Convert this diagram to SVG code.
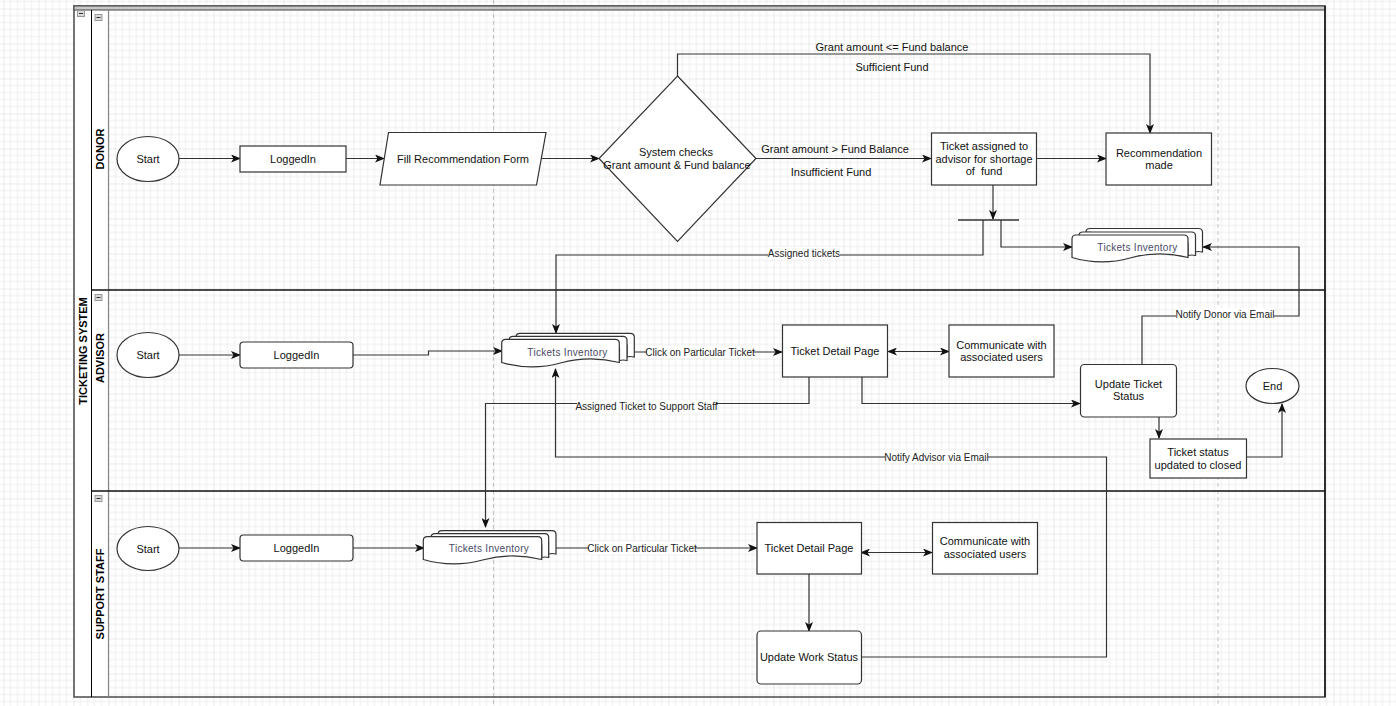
<svg xmlns="http://www.w3.org/2000/svg" width="1396" height="706" viewBox="0 0 1396 706">
<defs>
<pattern id="grid" x="3.5" y="8.5" width="35" height="35" patternUnits="userSpaceOnUse">
<path d="M7,0V35M14,0V35M21,0V35M28,0V35M0,7H35M0,14H35M0,21H35M0,28H35" stroke="#ededed" stroke-width="1" fill="none"/>
<path d="M0,0V35M0,0H35" stroke="#d8d8d8" stroke-width="1" fill="none"/>
</pattern>
<marker id="arr" viewBox="0 0 10 8" refX="9" refY="4" markerWidth="10" markerHeight="8" markerUnits="userSpaceOnUse" orient="auto-start-reverse">
<path d="M0,0 L10,4 L0,8 L2.5,4 Z" fill="#111"/>
</marker>
<style>
.n{fill:#fff;stroke:#333;stroke-width:1.2}
.t{font-family:"Liberation Sans",Arial,sans-serif;font-size:11px;fill:#111;text-anchor:middle;dominant-baseline:central}
.el{font-family:"Liberation Sans",Arial,sans-serif;font-size:10px;fill:#222;text-anchor:middle;dominant-baseline:central}
.inv{font-family:"Liberation Sans",Arial,sans-serif;font-size:10px;fill:#4a4a66;text-anchor:middle;dominant-baseline:central;letter-spacing:0.3px}
.lane{font-family:"Liberation Sans",Arial,sans-serif;font-size:11px;font-weight:bold;fill:#000;text-anchor:middle;dominant-baseline:central}
.c{fill:none;stroke:#333;stroke-width:1.2}
.ca{fill:none;stroke:#333;stroke-width:1.2;marker-end:url(#arr)}
.lbg{fill:#fff}
.ico{fill:#d9d9d9;stroke:#999;stroke-width:1}
</style>
</defs>
<rect width="1396" height="706" fill="#fff"/>
<rect width="1396" height="706" fill="url(#grid)"/>
<g id="pagebreaks" stroke="#c4c4c4" stroke-width="1" stroke-dasharray="4,3">
<line x1="493.5" y1="0" x2="493.5" y2="706"/>
<line x1="1218" y1="0" x2="1218" y2="706"/>
</g>
<g id="pool">
<rect x="74" y="6" width="34" height="691" fill="#fff"/>
<rect x="74" y="6" width="1251" height="691" fill="none" stroke="#555" stroke-width="1.6"/>
<rect x="74" y="6" width="1251" height="4" fill="#c8c8c8" stroke="#444" stroke-width="1"/>
<line x1="91.5" y1="10" x2="91.5" y2="697" stroke="#000" stroke-width="1"/>
<line x1="108.5" y1="10" x2="108.5" y2="697" stroke="#888" stroke-width="1.2"/>
<line x1="91" y1="290" x2="1325" y2="290" stroke="#111" stroke-width="1.4"/>
<line x1="91" y1="491" x2="1325" y2="491" stroke="#111" stroke-width="1.4"/>
<line x1="1325" y1="6" x2="1325" y2="697" stroke="#111" stroke-width="1.4"/>
<rect class="ico" x="77.5" y="10.5" width="7" height="6"/><line x1="79" y1="13.5" x2="83" y2="13.5" stroke="#333"/>
<rect class="ico" x="95" y="14.5" width="7" height="6"/><line x1="96.5" y1="17.5" x2="100.5" y2="17.5" stroke="#333"/>
<rect class="ico" x="95" y="294.5" width="7" height="6"/><line x1="96.5" y1="297.5" x2="100.5" y2="297.5" stroke="#333"/>
<rect class="ico" x="95" y="495.5" width="7" height="6"/><line x1="96.5" y1="498.5" x2="100.5" y2="498.5" stroke="#333"/>
<text class="lane" transform="translate(82.5,351) rotate(-90)">TICKETING SYSTEM</text>
<text class="lane" transform="translate(100,149) rotate(-90)">DONOR</text>
<text class="lane" transform="translate(100,358) rotate(-90)">ADVISOR</text>
<text class="lane" transform="translate(100,594) rotate(-90)">SUPPORT STAFF</text>
</g>
<g id="connectors">
<path class="ca" d="M179,158.5 H240"/>
<path class="ca" d="M346,158.5 H384"/>
<path class="ca" d="M541,158.5 H599"/>
<path class="ca" d="M677.5,76 V54 H1150 V133"/>
<path class="ca" d="M756,158.5 H931"/>
<path class="ca" d="M1036,158.5 H1106"/>
<path class="ca" d="M993,185 V219"/>
<line x1="958" y1="220" x2="1019" y2="220" stroke="#333" stroke-width="1.6"/>
<path class="ca" d="M983,220 V255 H556 V333"/>
<path class="ca" d="M1001,220 V247 H1072"/>
<path class="ca" d="M1142,364 V316 H1299 V247 H1203"/>
<path class="ca" d="M179,355 H240"/>
<path class="ca" d="M353,355 H428.5 V351 H502"/>
<path class="ca" d="M634,352 H782"/>
<path class="ca" d="M888,351.5 H949" marker-start="url(#arr)"/>
<path class="ca" d="M809,377 V403.5 H485.5 V527"/>
<path class="ca" d="M862,377 V403.5 H1080"/>
<path class="ca" d="M1159,417 V438"/>
<path class="ca" d="M1247,457 H1282 V404"/>
<path class="ca" d="M179,548 H240"/>
<path class="ca" d="M353,548 H424"/>
<path class="ca" d="M556,548 H757"/>
<path class="ca" d="M861,552.5 H932" marker-start="url(#arr)"/>
<path class="ca" d="M809,574 V631"/>
<path class="ca" d="M861,657 H1106.5 V457 H555.5 V369"/>
<text class="t" x="892" y="47">Grant amount &lt;= Fund balance</text>
<text class="t" x="892" y="67">Sufficient Fund</text>
<text class="t" x="835" y="149">Grant amount &gt; Fund Balance</text>
<text class="t" x="831" y="172">Insufficient Fund</text>
<rect class="lbg" x="768" y="247" width="72" height="12"/>
<text class="el" x="804" y="253">Assigned tickets</text>
<rect class="lbg" x="647" y="346" width="106" height="12"/>
<text class="el" x="700" y="352">Click on Particular Ticket</text>
<rect class="lbg" x="577" y="400" width="139" height="12"/>
<text class="el" x="646.5" y="406">Assigned Ticket to Support Staff</text>
<rect class="lbg" x="1176" y="308" width="98" height="12"/>
<text class="el" x="1225" y="314">Notify Donor via Email</text>
<rect class="lbg" x="885" y="451" width="103" height="12"/>
<text class="el" x="936.5" y="457">Notify Advisor via Email</text>
<rect class="lbg" x="589" y="542" width="106" height="12"/>
<text class="el" x="642" y="548">Click on Particular Ticket</text>
</g>
<g id="donor-start"><ellipse class="n" cx="148" cy="159" rx="31" ry="22.5"/><text class="t" x="148" y="159">Start</text></g>
<g id="donor-loggedin"><rect class="n" x="240" y="146" width="106" height="26"/><text class="t" x="293" y="159">LoggedIn</text></g>
<g id="donor-form"><path class="n" d="M388.5,132.5 H546 L536.5,185 H380 Z"/><text class="t" x="463" y="158.5">Fill Recommendation Form</text></g>
<g id="donor-check"><path class="n" d="M677.5,76 L756,158.5 L677.5,241.5 L599,158.5 Z"/><text class="t" x="676" y="152">System checks</text><text class="t" x="677" y="165">Grant amount &amp; Fund balance</text></g>
<g id="donor-ticket-assigned"><rect class="n" x="931.5" y="133" width="105" height="52"/><text class="t" x="984" y="146">Ticket assigned to</text><text class="t" x="984" y="158.5">advisor for shortage</text><text class="t" x="984" y="171">of&#160; fund</text></g>
<g id="donor-recommendation"><rect class="n" x="1106" y="133" width="105.5" height="52"/><text class="t" x="1159" y="152.5">Recommendation</text><text class="t" x="1159" y="165">made</text></g>
<g id="donor-inventory">
<path class="n" d="M1086,232 Q1086,228.5 1090,228.5 H1198.5 Q1202.5,228.5 1202.5,232.5 V252 Q1198,251 1195,252 V240 Z"/>
<path class="n" d="M1079,235.5 Q1079,232 1083,232 H1191.5 Q1195.5,232 1195.5,236 V255.5 Q1192,254.5 1188,255.5 V243 Z"/>
<path class="n" d="M1072,239 Q1072,235 1076,235 H1184 Q1188,235 1188,239 V257.5 Q1159,250 1130,258 T1072,257.5 Z"/>
<text class="inv" x="1137.5" y="247">Tickets Inventory</text>
</g>
<g id="advisor-start"><ellipse class="n" cx="148" cy="355" rx="31" ry="22.5"/><text class="t" x="148" y="355">Start</text></g>
<g id="advisor-loggedin"><rect class="n" x="240" y="342" width="113" height="26" rx="3.5"/><text class="t" x="296.5" y="355">LoggedIn</text></g>
<g id="advisor-inventory">
<path class="n" d="M516,337 Q516,333.3 520,333.3 H630.3 Q634.3,333.3 634.3,337.3 V357 Q630,356 627,357 V345 Z"/>
<path class="n" d="M509,340.3 Q509,336.3 513,336.3 H623 Q627,336.3 627,340.3 V360.5 Q623,359.5 619.5,360.5 V348 Z"/>
<path class="n" d="M501.7,343.3 Q501.7,339.3 505.7,339.3 H615.3 Q619.3,339.3 619.3,343.3 V362.5 Q590,355 560.5,363 T501.7,362.5 Z"/>
<text class="inv" x="567.5" y="352">Tickets Inventory</text>
</g>
<g id="advisor-ticket-detail"><rect class="n" x="782.5" y="325" width="105" height="52"/><text class="t" x="835" y="351">Ticket Detail Page</text></g>
<g id="advisor-communicate"><rect class="n" x="949" y="325" width="105" height="52"/><text class="t" x="1001.5" y="345">Communicate with</text><text class="t" x="1001.5" y="357">associated users</text></g>
<g id="advisor-update-status"><rect class="n" x="1080.5" y="364.5" width="96" height="52.5" rx="4"/><text class="t" x="1128.5" y="384">Update Ticket</text><text class="t" x="1128.5" y="396">Status</text></g>
<g id="advisor-closed"><rect class="n" x="1150" y="439" width="96.5" height="39"/><text class="t" x="1198" y="452">Ticket status</text><text class="t" x="1198" y="465">updated to closed</text></g>
<g id="advisor-end"><ellipse class="n" cx="1272.5" cy="386" rx="26.5" ry="17.5"/><text class="t" x="1272.5" y="386">End</text></g>
<g id="support-start"><ellipse class="n" cx="148" cy="548.5" rx="31" ry="22"/><text class="t" x="148" y="548.5">Start</text></g>
<g id="support-loggedin"><rect class="n" x="240" y="535" width="113" height="26" rx="3.5"/><text class="t" x="296.5" y="548">LoggedIn</text></g>
<g id="support-inventory">
<path class="n" d="M438,534.5 Q438,530.7 442,530.7 H552 Q556,530.7 556,534.7 V554 Q552,553 548.5,554 V542 Z"/>
<path class="n" d="M431,537.7 Q431,533.7 435,533.7 H544.7 Q548.7,533.7 548.7,537.7 V557.5 Q545,556.5 541.7,557.5 V545 Z"/>
<path class="n" d="M423.3,540.7 Q423.3,536.7 427.3,536.7 H537.7 Q541.7,536.7 541.7,540.7 V559.5 Q512,552 482.5,560 T423.3,559.5 Z"/>
<text class="inv" x="489" y="548.5">Tickets Inventory</text>
</g>
<g id="support-ticket-detail"><rect class="n" x="757" y="522.5" width="104.5" height="51.5"/><text class="t" x="809" y="548">Ticket Detail Page</text></g>
<g id="support-communicate"><rect class="n" x="932.5" y="522.5" width="105" height="51.5"/><text class="t" x="985" y="541">Communicate with</text><text class="t" x="985" y="554">associated users</text></g>
<g id="support-update-work"><rect class="n" x="757" y="631" width="104.5" height="53" rx="4"/><text class="t" x="809" y="657">Update Work Status</text></g>
</svg>
